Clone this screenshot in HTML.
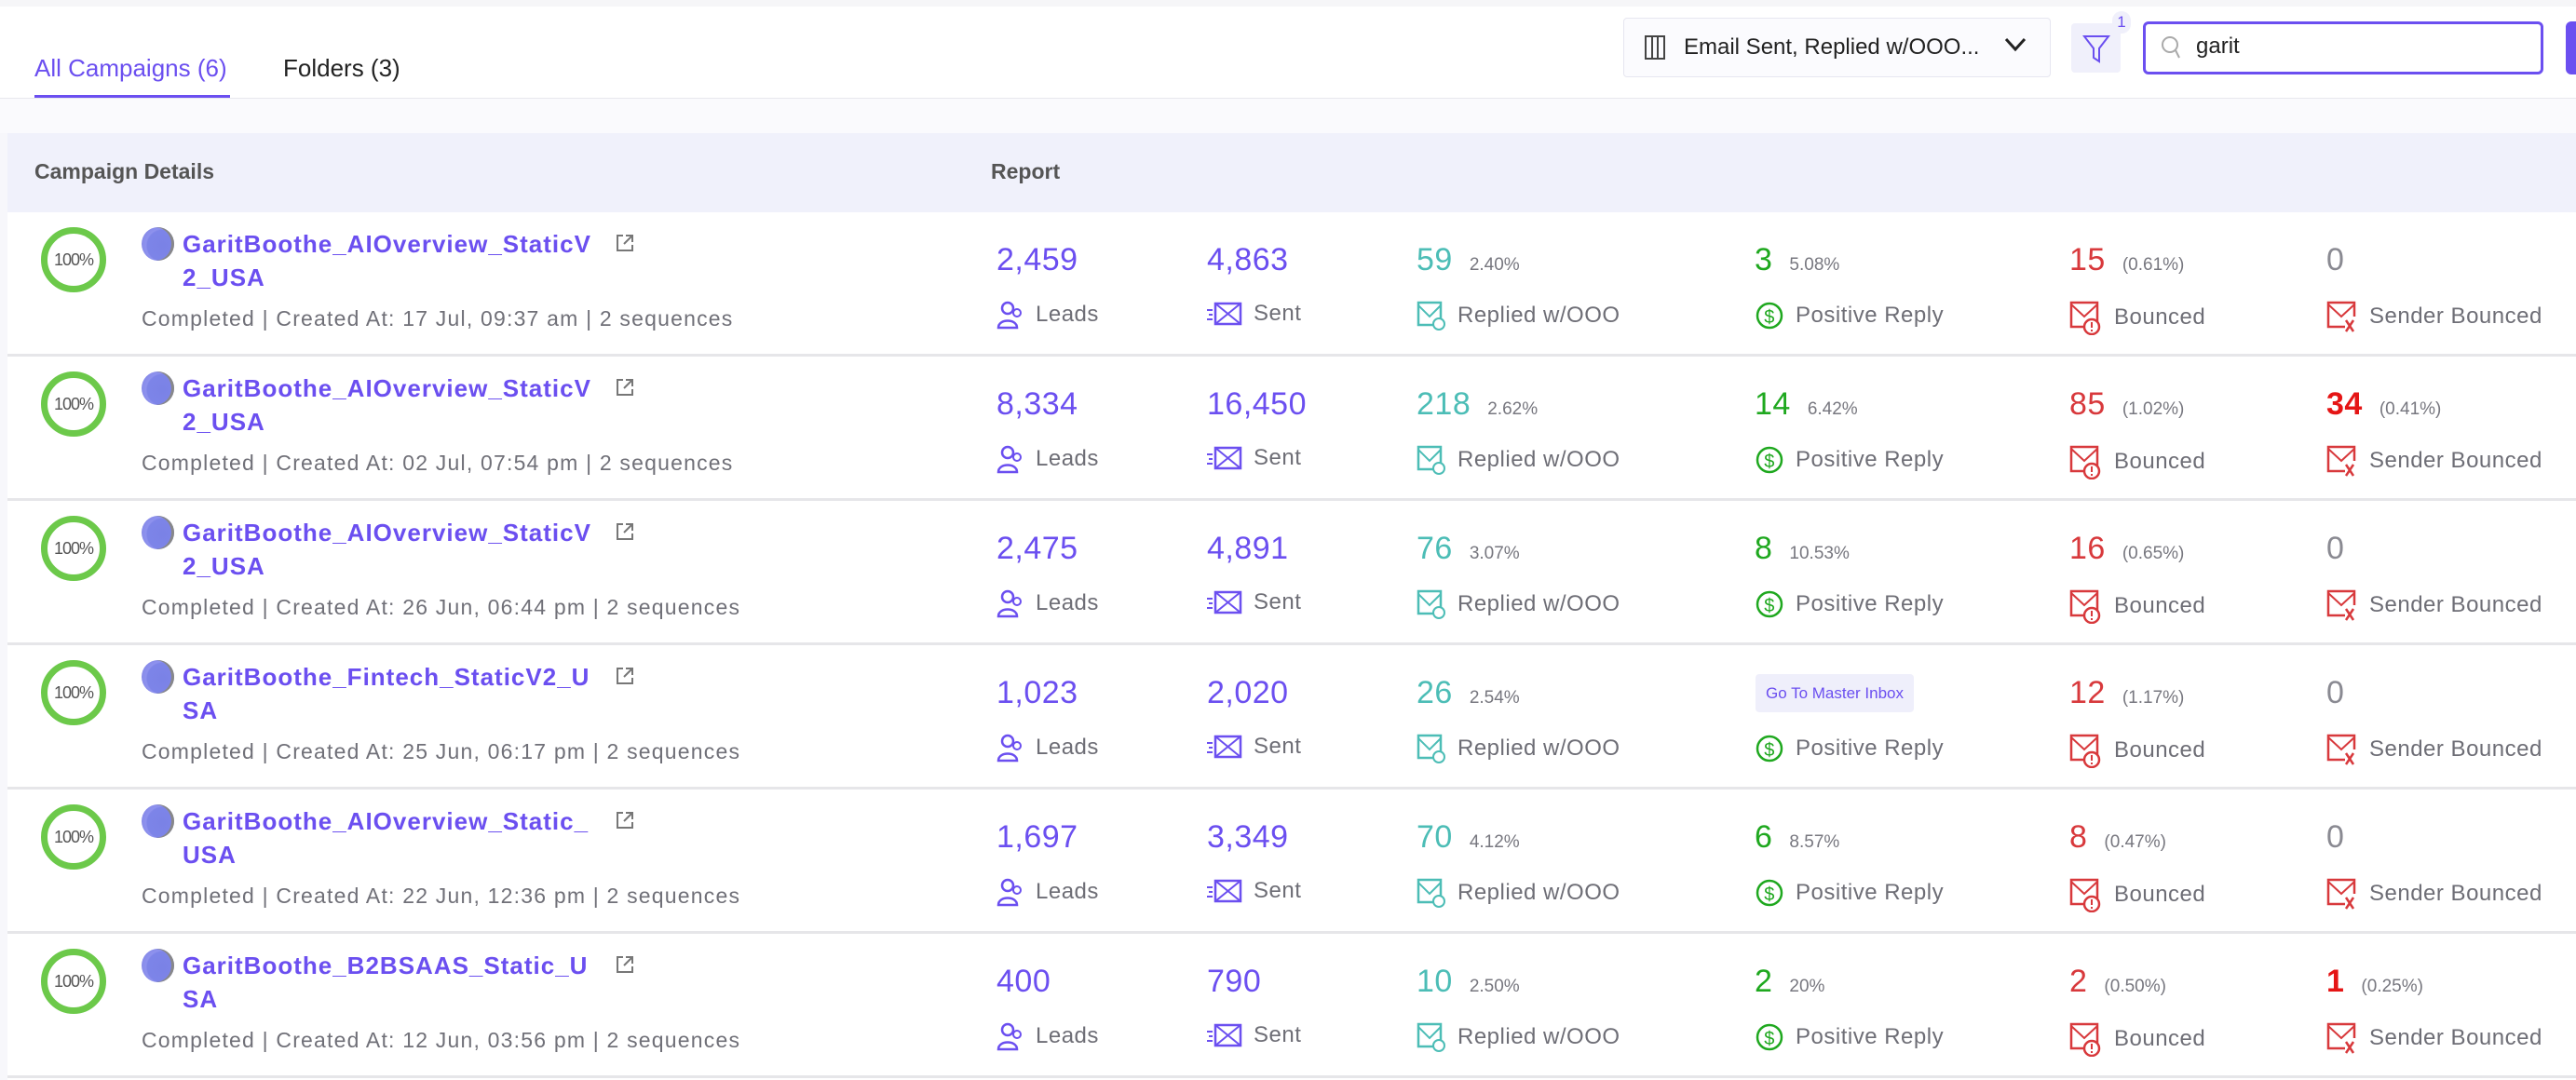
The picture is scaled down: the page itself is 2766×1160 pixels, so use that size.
<!DOCTYPE html>
<html><head><meta charset="utf-8"><style>
*{margin:0;padding:0;box-sizing:border-box}
body{width:2766px;height:1160px;background:#fff;font-family:"Liberation Sans",sans-serif;position:relative;overflow:hidden;color:#333}
.a{position:absolute;white-space:nowrap}
.row{position:absolute;left:8px;width:2758px;height:155px;border-bottom:3px solid #e6e6e9;background:#fff}
.ring{position:absolute;left:36px;top:16px;width:70px;height:70px;border:7px solid #6cc94a;border-radius:50%;font-size:18px;color:#555;text-align:center;line-height:56px;letter-spacing:-1px}
.av{position:absolute;left:144px;top:16px;width:35px;height:36px;border-radius:50%;background:radial-gradient(circle at 65% 55%,#7a82e6 0,#7d84e8 55%,#8e92ee 60%,#7c7fe0 100%);box-shadow:-3px 0 0 #888 inset}
.t{position:absolute;left:188px;font-size:26px;letter-spacing:1px;font-weight:bold;color:#6b4ff0;line-height:30px}
.ext{position:absolute;left:652px;top:22px}
.sub{position:absolute;left:144px;top:100px;font-size:23px;letter-spacing:1.2px;color:#707078;line-height:28px}
.n{position:absolute;top:32px;font-size:34px;letter-spacing:0.5px;line-height:38px;display:flex;align-items:baseline}
.n small{font-size:19px;letter-spacing:0;color:#77777f;margin-left:18px}
.p{color:#6b4ff0}.tl{color:#4cbdb6}.g{color:#1fa81f}.r{color:#d8393c}.rr{color:#e51515}.gy{color:#8a8a92}
.l{position:absolute;top:94px;font-size:24px;letter-spacing:0.5px;color:#6e6e76;line-height:30px;display:flex;align-items:center}
.l svg{margin-right:12px}
.badge{position:absolute;left:1877px;top:31px;width:170px;height:41px;background:#efeffb;border-radius:4px;color:#6b4ff0;font-size:17px;line-height:41px;text-align:center}
</style></head><body>
<div class="a" style="left:0;top:0;width:2766px;height:7px;background:#f6f6f8"></div>
<div class="a" style="left:37px;top:58px;font-size:26px;color:#6b4ff0">All Campaigns (6)</div>
<div class="a" style="left:304px;top:58px;font-size:26px;color:#222">Folders (3)</div>
<div class="a" style="left:37px;top:102px;width:210px;height:4px;background:#6b4ff0"></div>
<div class="a" style="left:0;top:105px;width:2766px;height:38px;background:#fafafd;border-top:1px solid #e8e8ee"></div>
<div class="a" style="left:1743px;top:19px;width:459px;height:64px;border:1px solid #e6e6f0;border-radius:4px;background:#fbfbfe"></div>
<svg class="a" style="left:1766px;top:38px" width="22" height="26"><rect x="1" y="1" width="20" height="24" fill="none" stroke="#444" stroke-width="2"/><line x1="8" y1="1" x2="8" y2="25" stroke="#444" stroke-width="2"/><line x1="14" y1="1" x2="14" y2="25" stroke="#444" stroke-width="2"/></svg>
<div class="a" style="left:1808px;top:37px;font-size:24px;color:#222">Email Sent, Replied w/OOO...</div>
<svg class="a" style="left:2152px;top:40px" width="24" height="16"><path d="M2 2 L12 13 L22 2" fill="none" stroke="#222" stroke-width="3"/></svg>
<div class="a" style="left:2224px;top:25px;width:53px;height:53px;background:#f0f0fb;border-radius:4px"></div>
<svg class="a" style="left:2236px;top:36px" width="30" height="32"><path d="M2 3 H28 L18 16 V30 L12 26 V16 Z" fill="none" stroke="#6b4ff0" stroke-width="2"/></svg>
<div class="a" style="left:2268px;top:12px;width:20px;height:24px;font-size:17px;color:#6b4ff0;background:#f0f0fb;border-radius:10px;text-align:center;line-height:24px">1</div>
<div class="a" style="left:2301px;top:23px;width:430px;height:57px;border:3px solid #6b4ff0;border-radius:6px;background:#fff"></div>
<svg class="a" style="left:2318px;top:37px" width="24" height="28"><circle cx="12" cy="11" r="8" fill="none" stroke="#aaa" stroke-width="2"/><line x1="18" y1="17" x2="22" y2="25" stroke="#aaa" stroke-width="2"/></svg>
<div class="a" style="left:2358px;top:36px;font-size:24px;color:#222">garit</div>
<div class="a" style="left:2755px;top:23px;width:20px;height:57px;background:#6b4ff0;border-radius:6px"></div>
<div class="a" style="left:0;top:143px;width:8px;height:1017px;background:#f7f7fb"></div>
<div class="a" style="left:8px;top:143px;width:2758px;height:85px;background:#f0f1fb"></div>
<div class="a" style="left:37px;top:171px;font-size:23px;color:#555;font-weight:bold">Campaign Details</div>
<div class="a" style="left:1064px;top:171px;font-size:23px;color:#555;font-weight:bold">Report</div>

<div class="row" style="top:228px">
<div class="ring">100%</div><div class="av"></div>
<div class="t" style="top:19px">GaritBoothe_AIOverview_StaticV</div><div class="t" style="top:55px">2_USA</div>
<svg class="ext" width="22" height="22"><path d="M9 3H3V19H19V13M12 3H19V10M19 3L10 12" fill="none" stroke="#777" stroke-width="2"/></svg>
<div class="sub">Completed | Created At: 17 Jul, 09:37 am | 2 sequences</div>
<div class="n p" style="left:1062px">2,459</div><div class="n p" style="left:1288px">4,863</div>
<div class="n tl" style="left:1513px">59<small>2.40%</small></div>
<div class="n g" style="left:1876px">3<small>5.08%</small></div>
<div class="n r" style="left:2214px">15<small>(0.61%)</small></div>
<div class="n gy" style="left:2490px">0</div>
<div class="l" style="left:1062px"><svg width="30" height="32"><circle cx="12" cy="9" r="6" fill="none" stroke="#6b4ff0" stroke-width="2.5"/><path d="M2 30C2 20 22 20 22 30Z" fill="none" stroke="#6b4ff0" stroke-width="2.5"/><circle cx="22" cy="14" r="4" fill="none" stroke="#6b4ff0" stroke-width="2"/></svg>Leads</div>
<div class="l" style="left:1288px"><svg width="38" height="28"><rect x="9" y="3" width="27" height="22" fill="none" stroke="#6b4ff0" stroke-width="2.5"/><path d="M9 3L36 25M36 3L9 25" stroke="#6b4ff0" stroke-width="2"/><path d="M0 10H6M2 15H6M0 20H6" stroke="#6b4ff0" stroke-width="2"/></svg>Sent</div>
<div class="l" style="left:1513px"><svg width="32" height="34"><rect x="2" y="3" width="24" height="24" fill="none" stroke="#4cbdb6" stroke-width="2.5"/><path d="M2 6L14 18L26 6" fill="none" stroke="#4cbdb6" stroke-width="2"/><circle cx="24" cy="26" r="6" fill="#fff" stroke="#4cbdb6" stroke-width="2"/></svg>Replied w/OOO</div>
<div class="l" style="left:1876px"><svg width="32" height="34"><circle cx="16" cy="17" r="13" fill="none" stroke="#1fa81f" stroke-width="2.5"/><text x="16" y="25" font-size="20" text-anchor="middle" fill="#1fa81f" font-family="Liberation Sans">$</text></svg>Positive Reply</div>
<div class="l" style="left:2214px"><svg width="36" height="38"><rect x="2" y="3" width="28" height="26" fill="none" stroke="#d8393c" stroke-width="2.5"/><path d="M2 5L16 18L30 5" fill="none" stroke="#d8393c" stroke-width="2"/><circle cx="24" cy="29" r="8" fill="#fff" stroke="#d8393c" stroke-width="2.5"/><path d="M24 24V30M24 32V34" stroke="#d8393c" stroke-width="2"/></svg>Bounced</div>
<div class="l" style="left:2490px"><svg width="34" height="36"><path d="M20 29H2V3H30V18" fill="none" stroke="#d8393c" stroke-width="2.5"/><path d="M2 5L16 18L30 5" fill="none" stroke="#d8393c" stroke-width="2"/><path d="M21 22L29 34M29 22L21 34" stroke="#d8393c" stroke-width="2.5"/></svg>Sender Bounced</div>
</div>

<div class="row" style="top:383px">
<div class="ring">100%</div><div class="av"></div>
<div class="t" style="top:19px">GaritBoothe_AIOverview_StaticV</div><div class="t" style="top:55px">2_USA</div>
<svg class="ext" width="22" height="22"><path d="M9 3H3V19H19V13M12 3H19V10M19 3L10 12" fill="none" stroke="#777" stroke-width="2"/></svg>
<div class="sub">Completed | Created At: 02 Jul, 07:54 pm | 2 sequences</div>
<div class="n p" style="left:1062px">8,334</div><div class="n p" style="left:1288px">16,450</div>
<div class="n tl" style="left:1513px">218<small>2.62%</small></div>
<div class="n g" style="left:1876px">14<small>6.42%</small></div>
<div class="n r" style="left:2214px">85<small>(1.02%)</small></div>
<div class="n rr" style="left:2490px;font-weight:bold">34<small style="font-weight:normal">(0.41%)</small></div>
<div class="l" style="left:1062px"><svg width="30" height="32"><circle cx="12" cy="9" r="6" fill="none" stroke="#6b4ff0" stroke-width="2.5"/><path d="M2 30C2 20 22 20 22 30Z" fill="none" stroke="#6b4ff0" stroke-width="2.5"/><circle cx="22" cy="14" r="4" fill="none" stroke="#6b4ff0" stroke-width="2"/></svg>Leads</div>
<div class="l" style="left:1288px"><svg width="38" height="28"><rect x="9" y="3" width="27" height="22" fill="none" stroke="#6b4ff0" stroke-width="2.5"/><path d="M9 3L36 25M36 3L9 25" stroke="#6b4ff0" stroke-width="2"/><path d="M0 10H6M2 15H6M0 20H6" stroke="#6b4ff0" stroke-width="2"/></svg>Sent</div>
<div class="l" style="left:1513px"><svg width="32" height="34"><rect x="2" y="3" width="24" height="24" fill="none" stroke="#4cbdb6" stroke-width="2.5"/><path d="M2 6L14 18L26 6" fill="none" stroke="#4cbdb6" stroke-width="2"/><circle cx="24" cy="26" r="6" fill="#fff" stroke="#4cbdb6" stroke-width="2"/></svg>Replied w/OOO</div>
<div class="l" style="left:1876px"><svg width="32" height="34"><circle cx="16" cy="17" r="13" fill="none" stroke="#1fa81f" stroke-width="2.5"/><text x="16" y="25" font-size="20" text-anchor="middle" fill="#1fa81f" font-family="Liberation Sans">$</text></svg>Positive Reply</div>
<div class="l" style="left:2214px"><svg width="36" height="38"><rect x="2" y="3" width="28" height="26" fill="none" stroke="#d8393c" stroke-width="2.5"/><path d="M2 5L16 18L30 5" fill="none" stroke="#d8393c" stroke-width="2"/><circle cx="24" cy="29" r="8" fill="#fff" stroke="#d8393c" stroke-width="2.5"/><path d="M24 24V30M24 32V34" stroke="#d8393c" stroke-width="2"/></svg>Bounced</div>
<div class="l" style="left:2490px"><svg width="34" height="36"><path d="M20 29H2V3H30V18" fill="none" stroke="#d8393c" stroke-width="2.5"/><path d="M2 5L16 18L30 5" fill="none" stroke="#d8393c" stroke-width="2"/><path d="M21 22L29 34M29 22L21 34" stroke="#d8393c" stroke-width="2.5"/></svg>Sender Bounced</div>
</div>

<div class="row" style="top:538px">
<div class="ring">100%</div><div class="av"></div>
<div class="t" style="top:19px">GaritBoothe_AIOverview_StaticV</div><div class="t" style="top:55px">2_USA</div>
<svg class="ext" width="22" height="22"><path d="M9 3H3V19H19V13M12 3H19V10M19 3L10 12" fill="none" stroke="#777" stroke-width="2"/></svg>
<div class="sub">Completed | Created At: 26 Jun, 06:44 pm | 2 sequences</div>
<div class="n p" style="left:1062px">2,475</div><div class="n p" style="left:1288px">4,891</div>
<div class="n tl" style="left:1513px">76<small>3.07%</small></div>
<div class="n g" style="left:1876px">8<small>10.53%</small></div>
<div class="n r" style="left:2214px">16<small>(0.65%)</small></div>
<div class="n gy" style="left:2490px">0</div>
<div class="l" style="left:1062px"><svg width="30" height="32"><circle cx="12" cy="9" r="6" fill="none" stroke="#6b4ff0" stroke-width="2.5"/><path d="M2 30C2 20 22 20 22 30Z" fill="none" stroke="#6b4ff0" stroke-width="2.5"/><circle cx="22" cy="14" r="4" fill="none" stroke="#6b4ff0" stroke-width="2"/></svg>Leads</div>
<div class="l" style="left:1288px"><svg width="38" height="28"><rect x="9" y="3" width="27" height="22" fill="none" stroke="#6b4ff0" stroke-width="2.5"/><path d="M9 3L36 25M36 3L9 25" stroke="#6b4ff0" stroke-width="2"/><path d="M0 10H6M2 15H6M0 20H6" stroke="#6b4ff0" stroke-width="2"/></svg>Sent</div>
<div class="l" style="left:1513px"><svg width="32" height="34"><rect x="2" y="3" width="24" height="24" fill="none" stroke="#4cbdb6" stroke-width="2.5"/><path d="M2 6L14 18L26 6" fill="none" stroke="#4cbdb6" stroke-width="2"/><circle cx="24" cy="26" r="6" fill="#fff" stroke="#4cbdb6" stroke-width="2"/></svg>Replied w/OOO</div>
<div class="l" style="left:1876px"><svg width="32" height="34"><circle cx="16" cy="17" r="13" fill="none" stroke="#1fa81f" stroke-width="2.5"/><text x="16" y="25" font-size="20" text-anchor="middle" fill="#1fa81f" font-family="Liberation Sans">$</text></svg>Positive Reply</div>
<div class="l" style="left:2214px"><svg width="36" height="38"><rect x="2" y="3" width="28" height="26" fill="none" stroke="#d8393c" stroke-width="2.5"/><path d="M2 5L16 18L30 5" fill="none" stroke="#d8393c" stroke-width="2"/><circle cx="24" cy="29" r="8" fill="#fff" stroke="#d8393c" stroke-width="2.5"/><path d="M24 24V30M24 32V34" stroke="#d8393c" stroke-width="2"/></svg>Bounced</div>
<div class="l" style="left:2490px"><svg width="34" height="36"><path d="M20 29H2V3H30V18" fill="none" stroke="#d8393c" stroke-width="2.5"/><path d="M2 5L16 18L30 5" fill="none" stroke="#d8393c" stroke-width="2"/><path d="M21 22L29 34M29 22L21 34" stroke="#d8393c" stroke-width="2.5"/></svg>Sender Bounced</div>
</div>

<div class="row" style="top:693px">
<div class="ring">100%</div><div class="av"></div>
<div class="t" style="top:19px">GaritBoothe_Fintech_StaticV2_U</div><div class="t" style="top:55px">SA</div>
<svg class="ext" width="22" height="22"><path d="M9 3H3V19H19V13M12 3H19V10M19 3L10 12" fill="none" stroke="#777" stroke-width="2"/></svg>
<div class="sub">Completed | Created At: 25 Jun, 06:17 pm | 2 sequences</div>
<div class="n p" style="left:1062px">1,023</div><div class="n p" style="left:1288px">2,020</div>
<div class="n tl" style="left:1513px">26<small>2.54%</small></div>
<div class="badge">Go To Master Inbox</div>
<div class="n r" style="left:2214px">12<small>(1.17%)</small></div>
<div class="n gy" style="left:2490px">0</div>
<div class="l" style="left:1062px"><svg width="30" height="32"><circle cx="12" cy="9" r="6" fill="none" stroke="#6b4ff0" stroke-width="2.5"/><path d="M2 30C2 20 22 20 22 30Z" fill="none" stroke="#6b4ff0" stroke-width="2.5"/><circle cx="22" cy="14" r="4" fill="none" stroke="#6b4ff0" stroke-width="2"/></svg>Leads</div>
<div class="l" style="left:1288px"><svg width="38" height="28"><rect x="9" y="3" width="27" height="22" fill="none" stroke="#6b4ff0" stroke-width="2.5"/><path d="M9 3L36 25M36 3L9 25" stroke="#6b4ff0" stroke-width="2"/><path d="M0 10H6M2 15H6M0 20H6" stroke="#6b4ff0" stroke-width="2"/></svg>Sent</div>
<div class="l" style="left:1513px"><svg width="32" height="34"><rect x="2" y="3" width="24" height="24" fill="none" stroke="#4cbdb6" stroke-width="2.5"/><path d="M2 6L14 18L26 6" fill="none" stroke="#4cbdb6" stroke-width="2"/><circle cx="24" cy="26" r="6" fill="#fff" stroke="#4cbdb6" stroke-width="2"/></svg>Replied w/OOO</div>
<div class="l" style="left:1876px"><svg width="32" height="34"><circle cx="16" cy="17" r="13" fill="none" stroke="#1fa81f" stroke-width="2.5"/><text x="16" y="25" font-size="20" text-anchor="middle" fill="#1fa81f" font-family="Liberation Sans">$</text></svg>Positive Reply</div>
<div class="l" style="left:2214px"><svg width="36" height="38"><rect x="2" y="3" width="28" height="26" fill="none" stroke="#d8393c" stroke-width="2.5"/><path d="M2 5L16 18L30 5" fill="none" stroke="#d8393c" stroke-width="2"/><circle cx="24" cy="29" r="8" fill="#fff" stroke="#d8393c" stroke-width="2.5"/><path d="M24 24V30M24 32V34" stroke="#d8393c" stroke-width="2"/></svg>Bounced</div>
<div class="l" style="left:2490px"><svg width="34" height="36"><path d="M20 29H2V3H30V18" fill="none" stroke="#d8393c" stroke-width="2.5"/><path d="M2 5L16 18L30 5" fill="none" stroke="#d8393c" stroke-width="2"/><path d="M21 22L29 34M29 22L21 34" stroke="#d8393c" stroke-width="2.5"/></svg>Sender Bounced</div>
</div>

<div class="row" style="top:848px">
<div class="ring">100%</div><div class="av"></div>
<div class="t" style="top:19px">GaritBoothe_AIOverview_Static_</div><div class="t" style="top:55px">USA</div>
<svg class="ext" width="22" height="22"><path d="M9 3H3V19H19V13M12 3H19V10M19 3L10 12" fill="none" stroke="#777" stroke-width="2"/></svg>
<div class="sub">Completed | Created At: 22 Jun, 12:36 pm | 2 sequences</div>
<div class="n p" style="left:1062px">1,697</div><div class="n p" style="left:1288px">3,349</div>
<div class="n tl" style="left:1513px">70<small>4.12%</small></div>
<div class="n g" style="left:1876px">6<small>8.57%</small></div>
<div class="n r" style="left:2214px">8<small>(0.47%)</small></div>
<div class="n gy" style="left:2490px">0</div>
<div class="l" style="left:1062px"><svg width="30" height="32"><circle cx="12" cy="9" r="6" fill="none" stroke="#6b4ff0" stroke-width="2.5"/><path d="M2 30C2 20 22 20 22 30Z" fill="none" stroke="#6b4ff0" stroke-width="2.5"/><circle cx="22" cy="14" r="4" fill="none" stroke="#6b4ff0" stroke-width="2"/></svg>Leads</div>
<div class="l" style="left:1288px"><svg width="38" height="28"><rect x="9" y="3" width="27" height="22" fill="none" stroke="#6b4ff0" stroke-width="2.5"/><path d="M9 3L36 25M36 3L9 25" stroke="#6b4ff0" stroke-width="2"/><path d="M0 10H6M2 15H6M0 20H6" stroke="#6b4ff0" stroke-width="2"/></svg>Sent</div>
<div class="l" style="left:1513px"><svg width="32" height="34"><rect x="2" y="3" width="24" height="24" fill="none" stroke="#4cbdb6" stroke-width="2.5"/><path d="M2 6L14 18L26 6" fill="none" stroke="#4cbdb6" stroke-width="2"/><circle cx="24" cy="26" r="6" fill="#fff" stroke="#4cbdb6" stroke-width="2"/></svg>Replied w/OOO</div>
<div class="l" style="left:1876px"><svg width="32" height="34"><circle cx="16" cy="17" r="13" fill="none" stroke="#1fa81f" stroke-width="2.5"/><text x="16" y="25" font-size="20" text-anchor="middle" fill="#1fa81f" font-family="Liberation Sans">$</text></svg>Positive Reply</div>
<div class="l" style="left:2214px"><svg width="36" height="38"><rect x="2" y="3" width="28" height="26" fill="none" stroke="#d8393c" stroke-width="2.5"/><path d="M2 5L16 18L30 5" fill="none" stroke="#d8393c" stroke-width="2"/><circle cx="24" cy="29" r="8" fill="#fff" stroke="#d8393c" stroke-width="2.5"/><path d="M24 24V30M24 32V34" stroke="#d8393c" stroke-width="2"/></svg>Bounced</div>
<div class="l" style="left:2490px"><svg width="34" height="36"><path d="M20 29H2V3H30V18" fill="none" stroke="#d8393c" stroke-width="2.5"/><path d="M2 5L16 18L30 5" fill="none" stroke="#d8393c" stroke-width="2"/><path d="M21 22L29 34M29 22L21 34" stroke="#d8393c" stroke-width="2.5"/></svg>Sender Bounced</div>
</div>

<div class="row" style="top:1003px">
<div class="ring">100%</div><div class="av"></div>
<div class="t" style="top:19px">GaritBoothe_B2BSAAS_Static_U</div><div class="t" style="top:55px">SA</div>
<svg class="ext" width="22" height="22"><path d="M9 3H3V19H19V13M12 3H19V10M19 3L10 12" fill="none" stroke="#777" stroke-width="2"/></svg>
<div class="sub">Completed | Created At: 12 Jun, 03:56 pm | 2 sequences</div>
<div class="n p" style="left:1062px">400</div><div class="n p" style="left:1288px">790</div>
<div class="n tl" style="left:1513px">10<small>2.50%</small></div>
<div class="n g" style="left:1876px">2<small>20%</small></div>
<div class="n r" style="left:2214px">2<small>(0.50%)</small></div>
<div class="n rr" style="left:2490px;font-weight:bold">1<small style="font-weight:normal">(0.25%)</small></div>
<div class="l" style="left:1062px"><svg width="30" height="32"><circle cx="12" cy="9" r="6" fill="none" stroke="#6b4ff0" stroke-width="2.5"/><path d="M2 30C2 20 22 20 22 30Z" fill="none" stroke="#6b4ff0" stroke-width="2.5"/><circle cx="22" cy="14" r="4" fill="none" stroke="#6b4ff0" stroke-width="2"/></svg>Leads</div>
<div class="l" style="left:1288px"><svg width="38" height="28"><rect x="9" y="3" width="27" height="22" fill="none" stroke="#6b4ff0" stroke-width="2.5"/><path d="M9 3L36 25M36 3L9 25" stroke="#6b4ff0" stroke-width="2"/><path d="M0 10H6M2 15H6M0 20H6" stroke="#6b4ff0" stroke-width="2"/></svg>Sent</div>
<div class="l" style="left:1513px"><svg width="32" height="34"><rect x="2" y="3" width="24" height="24" fill="none" stroke="#4cbdb6" stroke-width="2.5"/><path d="M2 6L14 18L26 6" fill="none" stroke="#4cbdb6" stroke-width="2"/><circle cx="24" cy="26" r="6" fill="#fff" stroke="#4cbdb6" stroke-width="2"/></svg>Replied w/OOO</div>
<div class="l" style="left:1876px"><svg width="32" height="34"><circle cx="16" cy="17" r="13" fill="none" stroke="#1fa81f" stroke-width="2.5"/><text x="16" y="25" font-size="20" text-anchor="middle" fill="#1fa81f" font-family="Liberation Sans">$</text></svg>Positive Reply</div>
<div class="l" style="left:2214px"><svg width="36" height="38"><rect x="2" y="3" width="28" height="26" fill="none" stroke="#d8393c" stroke-width="2.5"/><path d="M2 5L16 18L30 5" fill="none" stroke="#d8393c" stroke-width="2"/><circle cx="24" cy="29" r="8" fill="#fff" stroke="#d8393c" stroke-width="2.5"/><path d="M24 24V30M24 32V34" stroke="#d8393c" stroke-width="2"/></svg>Bounced</div>
<div class="l" style="left:2490px"><svg width="34" height="36"><path d="M20 29H2V3H30V18" fill="none" stroke="#d8393c" stroke-width="2.5"/><path d="M2 5L16 18L30 5" fill="none" stroke="#d8393c" stroke-width="2"/><path d="M21 22L29 34M29 22L21 34" stroke="#d8393c" stroke-width="2.5"/></svg>Sender Bounced</div>
</div>
</body></html>
